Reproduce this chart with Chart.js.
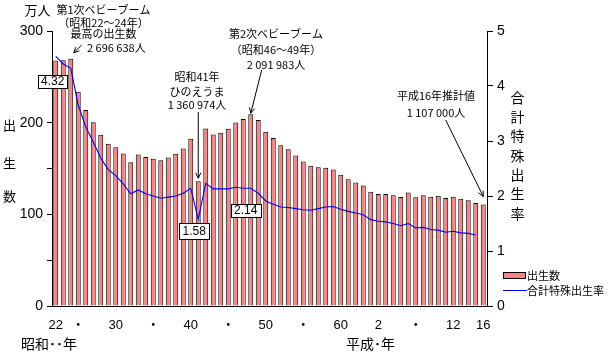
<!DOCTYPE html>
<html><head><meta charset="utf-8">
<script src="https://cdn.jsdelivr.net/npm/chart.js@4/dist/chart.umd.min.js"></script>
<style>html,body{margin:0;padding:0;background:#fff}#wrap{width:608px;height:352px;position:relative}</style>
</head><body><div id="wrap"><canvas id="c" width="608" height="352"></canvas></div>
<script>
// Categories: 昭和22年(1947) … 平成16年(2004)
const categories = ['S22','S23','S24','S25','S26','S27','S28','S29','S30','S31','S32','S33','S34','S35','S36','S37','S38','S39','S40','S41','S42','S43','S44','S45','S46','S47','S48','S49','S50','S51','S52','S53','S54','S55','S56','S57','S58','S59','S60','S61','S62','S63','H1','H2','H3','H4','H5','H6','H7','H8','H9','H10','H11','H12','H13','H14','H15','H16'];
// Tick labels shown under the axis (category index -> text)
const xTickLabels = {0:'22',3:'・',8:'30',13:'・',18:'40',23:'・',28:'50',33:'・',38:'60',43:'2',48:'・',53:'12',57:'16'};
// 出生数 (万人)
const births = [267.9,268.2,269.7,233.8,213.8,200.5,186.8,177.0,173.1,166.5,
  156.7,165.3,162.6,160.6,158.9,161.9,166.0,171.7,182.4,136.1,
  193.6,187.2,188.9,193.4,200.1,203.9,209.2,203.0,190.1,183.3,
  175.5,170.9,164.3,157.7,152.9,151.5,150.9,149.0,143.2,138.3,
  134.7,131.4,124.7,122.2,122.3,120.9,118.8,123.8,118.7,120.7,
  119.2,120.3,117.8,119.1,117.1,115.4,112.4,110.7];
// 合計特殊出生率
const tfr = [4.54,4.40,4.32,3.65,3.26,2.98,2.69,2.48,2.37,2.22,
  2.04,2.11,2.04,2.00,1.96,1.98,2.00,2.05,2.14,1.58,
  2.23,2.13,2.13,2.13,2.16,2.14,2.14,2.05,1.91,1.85,
  1.80,1.79,1.77,1.75,1.74,1.77,1.80,1.81,1.76,1.72,
  1.69,1.66,1.57,1.54,1.53,1.50,1.46,1.50,1.42,1.43,
  1.39,1.38,1.34,1.36,1.33,1.32,1.29,null];
const leftTicks = [0,100,200,300];
const rightTicks = [0,1,2,3,4,5];

const FONT = "'Noto Sans CJK JP', 'Liberation Sans', sans-serif";
const NUMFONT = "'Liberation Sans', 'Noto Sans CJK JP', sans-serif";

function arrow(ctx, x1, y1, x2, y2, hl) {
  ctx.beginPath(); ctx.moveTo(x1, y1); ctx.lineTo(x2, y2); ctx.stroke();
  const a = Math.atan2(y2 - y1, x2 - x1);
  ctx.beginPath();
  ctx.moveTo(x2 - hl * Math.cos(a - 0.45), y2 - hl * Math.sin(a - 0.45));
  ctx.lineTo(x2, y2);
  ctx.lineTo(x2 - hl * Math.cos(a + 0.45), y2 - hl * Math.sin(a + 0.45));
  ctx.stroke();
}
function box(ctx, txt, cx, cy, w, h) {
  const l = Math.round(cx - w / 2) + 0.5, t = Math.round(cy - h / 2) + 0.5;
  ctx.fillStyle = '#fff'; ctx.fillRect(l, t, w, h);
  ctx.strokeStyle = '#000'; ctx.lineWidth = 1; ctx.strokeRect(l, t, w, h);
  ctx.fillStyle = '#000'; ctx.font = '12px ' + NUMFONT;
  ctx.textAlign = 'center'; ctx.textBaseline = 'middle';
  ctx.fillText(txt, cx, cy + 0.5);
}
function lines(ctx, arr, cx, size) {
  ctx.font = size + 'px ' + FONT; ctx.textAlign = 'center'; ctx.textBaseline = 'middle';
  ctx.fillStyle = '#000';
  arr.forEach(([t, yy]) => ctx.fillText(t, cx, yy));
}

const annoPlugin = {
  id: 'anno',
  afterDatasetsDraw(chart) {
    const {ctx, scales: {x, y, y1}} = chart;
    ctx.save();
    const px = i => x.getPixelForValue(i);
    const barTop = i => y.getPixelForValue(births[i]);
    const lp = i => ({x: px(i), y: y1.getPixelForValue(tfr[i])});
    // value boxes
    const p2 = lp(2), p19 = lp(19), p26 = lp(26);
    box(ctx, tfr[2].toFixed(2), p2.x - 18, p2.y + 13, 29, 13);
    box(ctx, tfr[19].toFixed(2), p19.x - 4, p19.y + 12, 30, 16);
    box(ctx, tfr[26].toFixed(2), p26.x - 5, p26.y + 22, 30, 13);
    // arrows
    ctx.strokeStyle = '#000'; ctx.lineWidth = 1;
    arrow(ctx, 81.7, 45, px(2) + 3, barTop(2) - 6, 6);
    arrow(ctx, px(19), 112, px(19), barTop(19) - 3, 6);
    arrow(ctx, 261.7, 70, px(26), barTop(26) - 1, 6);
    arrow(ctx, 445.7, 120, px(57), barTop(57) - 8, 6);
    // annotation texts
    lines(ctx, [['第1次ベビーブーム', 10], ['（昭和22～24年）', 22.5], ['最高の出生数', 34]], 103.5, 11);
    ctx.textAlign = 'left'; ctx.fillText('2 696 638人', 87, 48);
    lines(ctx, [['昭和41年', 77], ['ひのえうま', 91.5], ['1 360 974人', 105]], 197, 11);
    lines(ctx, [['第2次ベビーブーム', 33.5], ['（昭和46～49年）', 50], ['2 091 983人', 64.5]], 276, 11);
    lines(ctx, [['平成16年推計値', 95.5], ['1 107 000人', 112.5]], 436, 11);
    ctx.restore();
  },
  afterDraw(chart) {
    const {ctx} = chart;
    ctx.save();
    ctx.fillStyle = '#000';
    // unit
    lines(ctx, [['万人', 10]], 37.5, 13);
    // left vertical title
    lines(ctx, [['出', 125.5], ['生', 163.5], ['数', 196]], 9.5, 13);
    // right vertical title
    const rt = '合計特殊出生率';
    lines(ctx, [...rt].map((c, i) => [c, 97.5 + i * 19.3]), 517.5, 14);
    // era labels
    ctx.font = '14px ' + FONT; ctx.textAlign = 'left'; ctx.textBaseline = 'middle';
    ctx.fillText('昭和･･年', 21, 343.5);
    ctx.fillText('平成･年', 346, 343.5);
    // legend
    ctx.fillStyle = '#FF8080'; ctx.fillRect(503.5, 272.5, 22, 6);
    ctx.strokeStyle = '#000'; ctx.lineWidth = 1; ctx.strokeRect(503.5, 272.5, 22, 6);
    ctx.strokeStyle = '#0000FF'; ctx.beginPath(); ctx.moveTo(503, 290.5); ctx.lineTo(527, 290.5); ctx.stroke();
    ctx.fillStyle = '#000'; ctx.font = '11px ' + FONT; ctx.textAlign = 'left';
    ctx.fillText('出生数', 527, 276);
    ctx.fillText('合計特殊出生率', 527, 291);
    ctx.restore();
  }
};

new Chart(document.getElementById('c'), {
  data: {
    labels: categories,
    datasets: [
      {type: 'line', label: '合計特殊出生率', data: tfr, yAxisID: 'y1', borderColor: '#0000FF',
       borderWidth: 1.1, pointRadius: 0, tension: 0, order: 0, fill: false},
      {type: 'bar', label: '出生数', data: births, yAxisID: 'y', backgroundColor: '#FF8080',
       borderColor: '#000', borderWidth: 1, barPercentage: 0.66, categoryPercentage: 1, order: 1}
    ]
  },
  options: {
    responsive: false, devicePixelRatio: 1, animation: false,
    layout: {padding: {top: 31, left: 0, right: 0, bottom: 0}},
    plugins: {legend: {display: false}, tooltip: {enabled: false}},
    scales: {
      x: {
        type: 'category', offset: true,
        grid: {display: false, drawTicks: false},
        border: {display: true, color: '#000', width: 1},
        ticks: {autoSkip: false, maxRotation: 0, minRotation: 0, padding: 12, color: '#000',
          font: {size: 13, family: NUMFONT},
          callback: (v, i) => (xTickLabels[i] !== undefined ? xTickLabels[i] : '')},
        afterFit: s => { s.height = 46; }
      },
      y: {
        position: 'left', min: leftTicks[0], max: leftTicks[leftTicks.length - 1],
        ticks: {stepSize: 50, padding: 4, color: '#000', font: {size: 14, family: NUMFONT},
          callback: v => (leftTicks.includes(v) ? v : '')},
        grid: {drawOnChartArea: false, drawTicks: true, tickLength: 5, color: '#000'},
        border: {display: true, color: '#000', width: 1},
        afterFit: s => { s.width = 52; }
      },
      y1: {
        position: 'right', min: rightTicks[0], max: rightTicks[rightTicks.length - 1],
        ticks: {stepSize: 1, padding: 4, color: '#000', font: {size: 14, family: NUMFONT},
          callback: v => (rightTicks.includes(v) ? v : '')},
        grid: {drawOnChartArea: false, drawTicks: true, tickLength: 6, color: '#000'},
        border: {display: true, color: '#000', width: 1},
        afterFit: s => { s.width = 121; }
      }
    }
  },
  plugins: [annoPlugin]
});
</script>
</body></html>
